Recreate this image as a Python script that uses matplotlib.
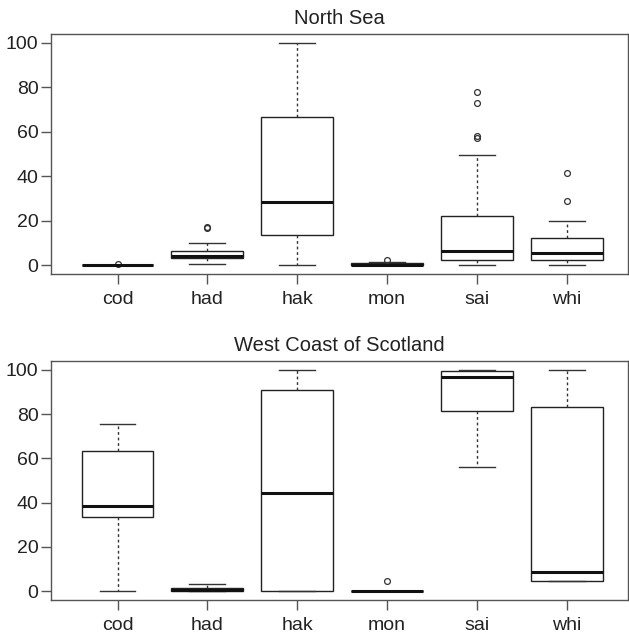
import matplotlib.pyplot as plt

species = ['cod', 'had', 'hak', 'mon', 'sai', 'whi']

# North Sea
ns_whislo = [0.0, 0.5, 0.0, 0.0, 0.0, 0.0]
ns_q1 = [0.0, 3.0, 13.4, 0.0, 2.3, 2.3]
ns_med = [0.0, 4.1, 28.5, 0.2, 6.2, 5.3]
ns_q3 = [0.0, 6.3, 66.7, 0.8, 22.1, 12.3]
ns_whishi = [0.0, 9.9, 100.0, 1.2, 49.7, 19.9]
ns_fliers = [[0.5], [16.6, 17.3], [], [2.4], [57.1, 58.3, 73.0, 77.9], [28.9, 41.3]]

# West Coast of Scotland
wc_whislo = [0.0, 0.0, 0.0, 0.0, 56.2, 4.7]
wc_q1 = [33.3, 0.2, 0.0, 0.0, 81.3, 4.7]
wc_med = [38.3, 0.5, 44.4, 0.0, 96.7, 8.7]
wc_q3 = [63.3, 1.5, 91.1, 0.0, 99.5, 83.4]
wc_whishi = [75.5, 3.2, 100.0, 0.0, 100.0, 100.0]
wc_fliers = [[], [], [], [4.5], [], []]

plt.rcParams['font.family'] = ['Liberation Sans', 'DejaVu Sans']
TXT = '#222222'
FRAME = '#555555'


def stats_de(whislo, q1, med, q3, whishi, fliers):
    return [dict(label=s, whislo=a, q1=b, med=c, q3=d, whishi=e, fliers=f)
            for s, a, b, c, d, e, f in zip(species, whislo, q1, med, q3, whishi, fliers)]


def painel(ax, stats, titulo):
    ax.bxp(stats, positions=range(1, 7), widths=0.8, showfliers=True,
           patch_artist=True,
           boxprops=dict(facecolor='white', edgecolor='#222222', linewidth=1.0),
           medianprops=dict(color='#111111', linewidth=2.2),
           whiskerprops=dict(color='#333333', linewidth=1.0, linestyle=(0, (2, 2))),
           capprops=dict(color='#333333', linewidth=1.0),
           capwidths=0.4,
           flierprops=dict(marker='o', markersize=4.2, markerfacecolor='none',
                           markeredgecolor='#333333', markeredgewidth=0.9))
    ax.set_xlim(0.26, 6.68)
    ax.set_ylim(-4, 104)
    ax.set_yticks([0, 20, 40, 60, 80, 100])
    ax.set_xticks(range(1, 7))
    ax.set_xticklabels(species)
    ax.tick_params(axis='both', labelsize=14, colors=FRAME, labelcolor=TXT,
                   length=7, width=1.0)
    ax.tick_params(axis='x', pad=5)
    ax.tick_params(axis='y', pad=2)
    for sp in ax.spines.values():
        sp.set_color(FRAME)
        sp.set_linewidth(1.0)
    ax.set_title(titulo, fontsize=14.5, color=TXT, pad=7)


fig = plt.figure(figsize=(6.29, 6.36), dpi=100)
ax1 = fig.add_axes([51 / 629, 1 - 274 / 636, 577 / 629, 240 / 636])
ax2 = fig.add_axes([51 / 629, 1 - 600 / 636, 577 / 629, 239 / 636])

painel(ax1, stats_de(ns_whislo, ns_q1, ns_med, ns_q3, ns_whishi, ns_fliers), 'North Sea')
painel(ax2, stats_de(wc_whislo, wc_q1, wc_med, wc_q3, wc_whishi, wc_fliers),
       'West Coast of Scotland')

fig.savefig('out.png', dpi=100)
